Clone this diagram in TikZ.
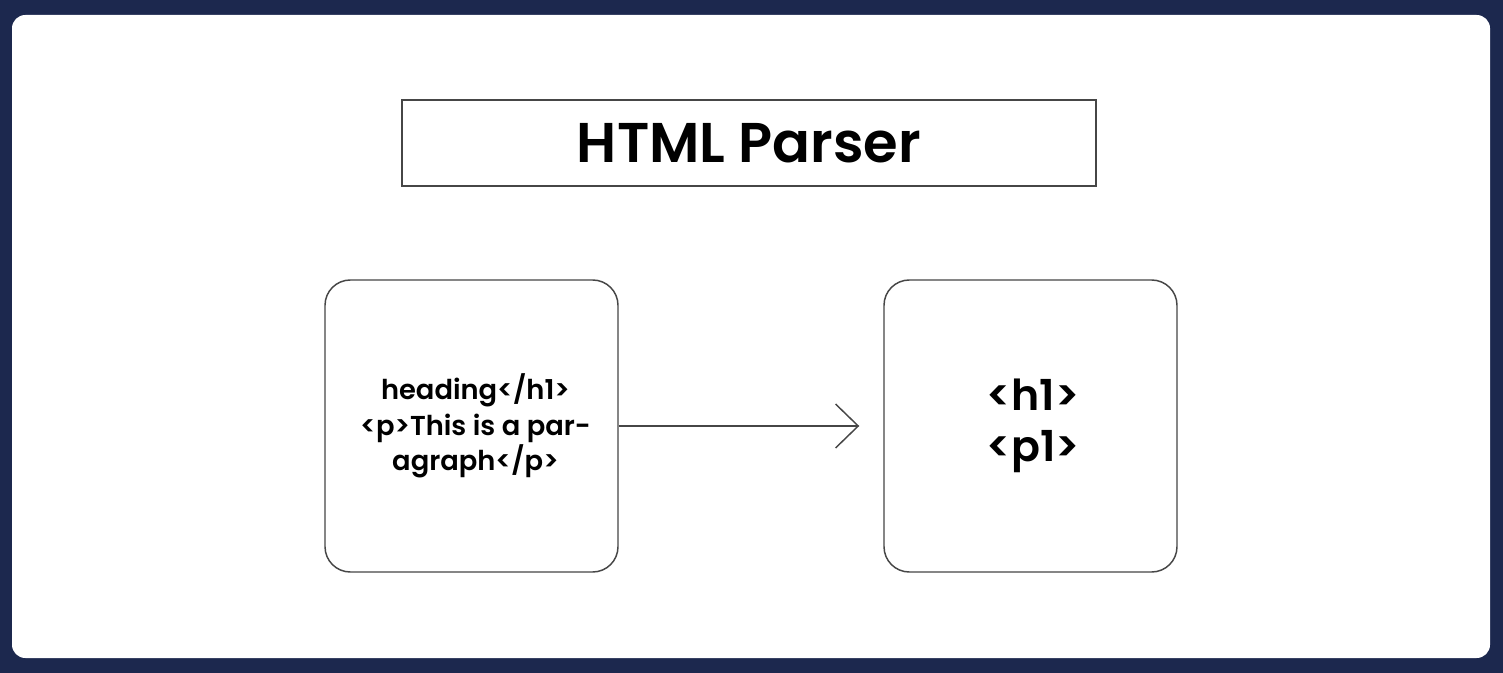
\documentclass[tikz,border=0pt]{standalone}
\usepackage{fontspec}
\setmainfont{Poppins}[BoldFont={Poppins SemiBold}]
\usetikzlibrary{arrows.meta}
\definecolor{navy}{RGB}{28,40,78}
\definecolor{edge}{RGB}{70,70,70}
\begin{document}
\begin{tikzpicture}[x=0.75pt,y=-0.75pt,
  box/.style={draw=edge,line width=1.1pt,fill=white,inner sep=0pt},
  rbox/.style={box,rounded corners=19pt,minimum width=219.75pt,minimum height=219pt},
  conn/.style={draw=edge,line width=1.1pt,-{Straight Barb[length=17pt,width=33pt,line width=1.1pt]}}]
\fill[navy] (0,0) rectangle (1503,673);
\useasboundingbox (0,0) rectangle (1503,673);
\fill[white,rounded corners=10pt] (12,15) rectangle (1490,658);
\node[box,minimum width=520.5pt,minimum height=64.5pt,font=\fontsize{42pt}{48pt}\selectfont\bfseries] (title) at (749,143) {HTML Parser};
\node[rbox,align=center,font=\fontsize{20.5pt}{26.5pt}\selectfont\bfseries] (src) at (471.5,426) {\hspace*{6pt}heading</h1>\\\hspace*{6pt}<p>This is a par-\\\hspace*{6pt}agraph</p>};
\node[rbox,align=center,font=\fontsize{32pt}{38pt}\selectfont\bfseries] (dom) at (1030.5,426) {\hspace*{4pt}<h1>\\\hspace*{4pt}<p1>};
\draw[conn,shorten >=18pt] (src.east) -- (dom.west);
\end{tikzpicture}
\end{document}
